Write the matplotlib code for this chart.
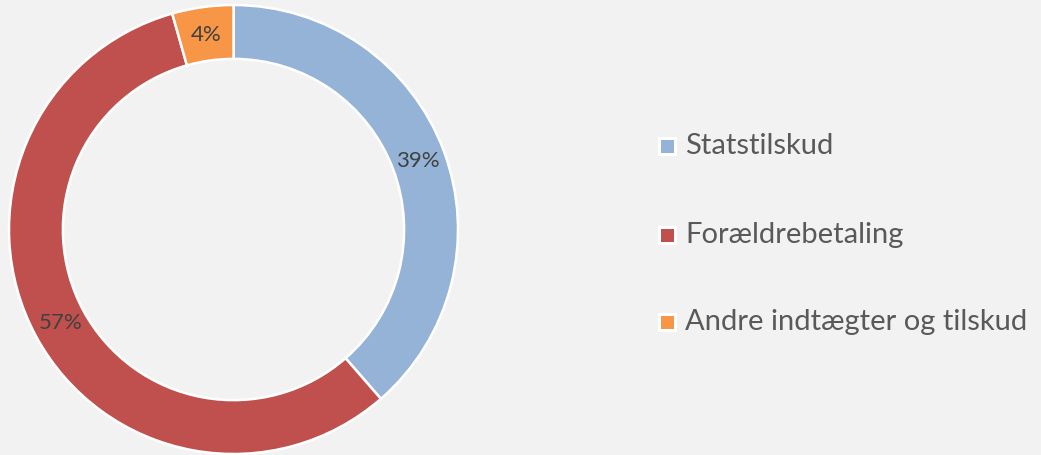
import numpy as np
import matplotlib.pyplot as plt
from matplotlib.patches import Rectangle

# --- Data ---
labels = ["Statstilskud", "Forældrebetaling", "Andre indtægter og tilskud"]
shares = [38.6, 57.0, 4.4]
pct_text = ["39%", "57%", "4%"]
colors = ["#95B3D7", "#C0504D", "#F79646"]

bg = "#F2F2F2"
plt.rcParams["font.family"] = ["Lato", "DejaVu Sans"]

W, H = 1041, 455
fig = plt.figure(figsize=(W / 100, H / 100), dpi=100)
fig.patch.set_facecolor(bg)

# donut axes: centre ~ (233.5, 229.5) px, radius ~224.5 px
cx, cy, r = 233.5, 229.5, 224.5
ax = fig.add_axes([(cx - r) / W, (H - cy - r) / H, 2 * r / W, 2 * r / H])
ax.set_facecolor(bg)

wedges, _ = ax.pie(
    shares, colors=colors, startangle=90, counterclock=False, radius=1.0,
    wedgeprops=dict(width=0.24, edgecolor="white", linewidth=1.8),
)

# percent labels inside the ring
for w, t in zip(wedges, pct_text):
    ang = np.deg2rad((w.theta1 + w.theta2) / 2)
    ax.text(0.875 * np.cos(ang), 0.875 * np.sin(ang), t,
            ha="center", va="center", fontsize=16, color="#404040")

ax.set_xlim(-1, 1)
ax.set_ylim(-1, 1)
ax.set_aspect("equal")
ax.axis("off")

# legend drawn by hand to match spacing
rows_y = [146, 235, 322]
for lab, col, yy in zip(labels, colors, rows_y):
    s = 19
    fig.patches.append(Rectangle(((667 - s / 2) / W, (H - yy - s / 2) / H), s / W, s / H,
                                 transform=fig.transFigure, facecolor="white",
                                 edgecolor="none"))
    s2 = 13
    fig.patches.append(Rectangle(((667 - s2 / 2) / W, (H - yy - s2 / 2) / H), s2 / W, s2 / H,
                                 transform=fig.transFigure, facecolor=col,
                                 edgecolor="none"))
    fig.text(685 / W, (H - yy) / H, lab, ha="left", va="center",
             fontsize=21, color="#595959")

fig.savefig("out.png", dpi=100, facecolor=bg)
